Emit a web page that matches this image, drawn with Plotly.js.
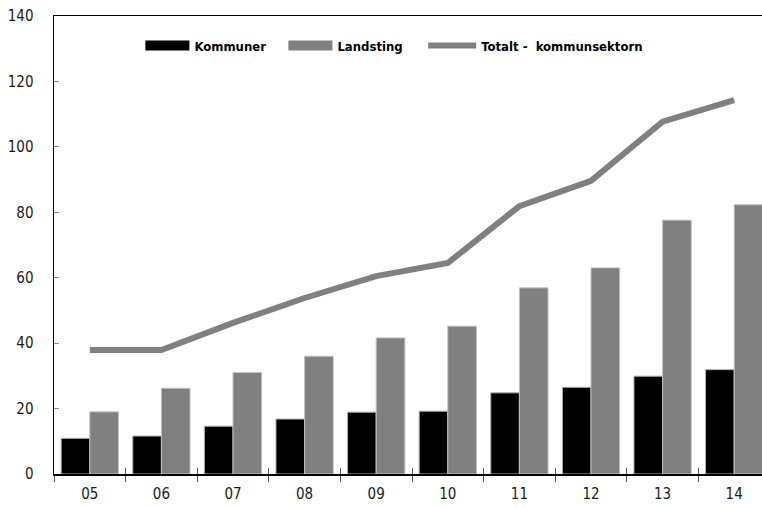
<!DOCTYPE html>
<html>
<head>
<meta charset="utf-8">
<script src="https://cdn.plot.ly/plotly-3.0.1.min.js"></script>
<style>html,body{margin:0;padding:0;background:#fff;}#chart{width:762px;height:508px;}</style>
</head>
<body>
<div id="chart"></div>
<script>
const years = ['05','06','07','08','09','10','11','12','13','14'];
const kommuner = [10.9, 11.6, 14.6, 16.8, 18.9, 19.2, 24.8, 26.5, 29.9, 31.9];
const landsting = [19.0, 26.2, 31.0, 36.0, 41.6, 45.2, 56.9, 63.0, 77.6, 82.3];
const totalt = [37.9, 37.9, 46.2, 53.8, 60.5, 64.5, 81.9, 89.6, 107.7, 114.3];
const seriesNames = ['Kommuner', 'Landsting', 'Totalt -  kommunsektorn'];

const FONT = '"DejaVu Sans Condensed", "Liberation Sans Narrow", sans-serif';
const GRAY = '#808080';

const traces = [
  {type:'bar', x:years, y:kommuner, name:seriesNames[0], showlegend:false,
   marker:{color:'#000000', line:{color:'#b0b0b0', width:1}}, hoverinfo:'skip'},
  {type:'bar', x:years, y:landsting, name:seriesNames[1], showlegend:false,
   marker:{color:GRAY, line:{color:'#c0c0c0', width:1}}, hoverinfo:'skip'},
  {type:'scatter', mode:'lines', x:years, y:totalt, name:seriesNames[2], showlegend:false,
   line:{color:GRAY, width:6}, hoverinfo:'skip'},
  // legend entries
  {type:'scatter', mode:'lines', x:[null], y:[null], name:seriesNames[0],
   line:{color:'#000000', width:11}, legend:'legend'},
  {type:'scatter', mode:'lines', x:[null], y:[null], name:seriesNames[1],
   line:{color:GRAY, width:11}, legend:'legend'},
  {type:'scatter', mode:'lines', x:[null], y:[null], name:seriesNames[2],
   line:{color:GRAY, width:6}, legend:'legend2'}
];

const xr = [-0.5, -0.5 + 708/71.6];
const legendFont = {family:FONT, size:13, color:'#000', weight:'bold'};

const layout = {
  width:762, height:508,
  margin:{l:54, r:0, t:16, b:34, pad:0},
  paper_bgcolor:'#ffffff', plot_bgcolor:'#ffffff',
  barmode:'group', bargap:0.2, bargroupgap:0,
  font:{family:FONT, size:15, color:'#1a1a1a'},
  showlegend:true,
  legend:{orientation:'h', x:0.122, y:0.968, xanchor:'left', yanchor:'top',
          font:legendFont, itemwidth:44, tracegroupgap:0, bgcolor:'rgba(0,0,0,0)', entrywidth:84},
  legend2:{orientation:'h', x:0.5215, y:0.968, xanchor:'left', yanchor:'top',
          font:legendFont, itemwidth:48, tracegroupgap:0, bgcolor:'rgba(0,0,0,0)'},
  xaxis:{type:'category', categoryorder:'array', categoryarray:years, range:xr,
         showline:true, linecolor:'#000', linewidth:1.5, mirror:false,
         ticks:'outside', ticklen:6, tickcolor:'#555', tickwidth:1, tickson:'boundaries',
         showgrid:false, zeroline:false, fixedrange:true,
         tickfont:{family:FONT, size:15, color:'#1a1a1a'}, ticklabelstandoff:5},
  xaxis2:{type:'category', categoryorder:'array', categoryarray:years, range:xr,
         overlaying:'x', side:'bottom', showline:false, showticklabels:false,
         ticks:'inside', ticklen:6, tickcolor:'#555', tickwidth:1, tickson:'boundaries',
         showgrid:false, zeroline:false},
  xaxis3:{range:[0,1], overlaying:'x', side:'top', showline:true, linecolor:'#000', linewidth:1,
         showticklabels:false, ticks:'', showgrid:false, zeroline:false},
  yaxis:{range:[0,140], dtick:20, showline:true, linecolor:'#000', linewidth:1.5,
         ticks:'inside', ticklen:5, tickcolor:'#888', tickwidth:1,
         showgrid:false, zeroline:false, fixedrange:true,
         tickfont:{family:FONT, size:15, color:'#1a1a1a'}, ticklabelstandoff:16}
};

// dummy traces to activate overlay axes
traces.push({type:'scatter', x:[years[0]], y:[null], xaxis:'x2', showlegend:false, hoverinfo:'skip'});
traces.push({type:'scatter', x:[0.5], y:[null], xaxis:'x3', showlegend:false, hoverinfo:'skip'});

Plotly.newPlot('chart', traces, layout, {displayModeBar:false, staticPlot:true});
</script>
</body>
</html>
